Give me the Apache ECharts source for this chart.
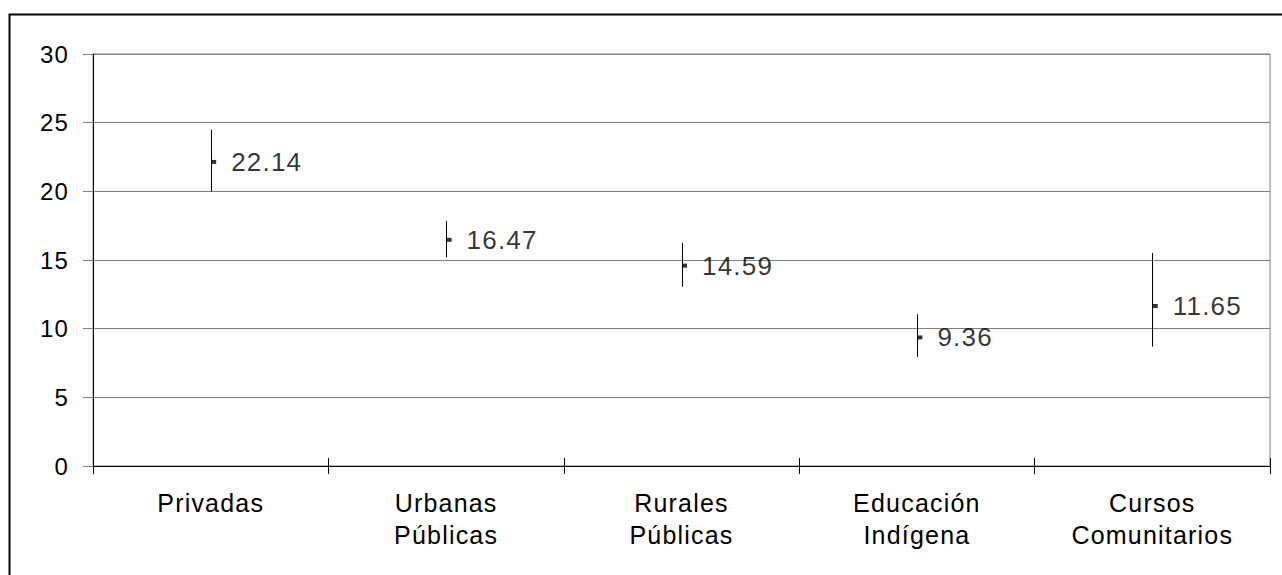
<!DOCTYPE html>
<html>
<head>
<meta charset="utf-8">
<script src="https://cdn.jsdelivr.net/npm/echarts@6/dist/echarts.min.js"></script>
<style>
  html, body { margin: 0; padding: 0; background: #fff; }
  #chart { width: 1282px; height: 575px; }
  /* slightly wider spacing for all chart text */
  #chart text { letter-spacing: 1.2px; }
</style>
</head>
<body>
<div id="chart"></div>
<script>
// Categories of school type
const categories = ['Privadas', 'Urbanas\nPúblicas', 'Rurales\nPúblicas', 'Educación\nIndígena', 'Cursos\nComunitarios'];
// Mean value per category
const means = [22.14, 16.47, 14.59, 9.36, 11.65];
// Interval limits per category
const upper = [24.5, 17.85, 16.25, 11.05, 15.5];
const lower = [20.0, 15.2, 13.05, 7.95, 8.7];
// Y-axis scale
const yMin = 0, yMax = 30, yStep = 5;

const FONT = "'Liberation Sans', Arial, sans-serif";
const chart = echarts.init(document.getElementById('chart'), null, { renderer: 'svg' });

const rangeData = categories.map((c, i) => [i, lower[i], upper[i]]);
const meanData = categories.map((c, i) => [i, means[i]]);

chart.setOption({
  animation: false,
  backgroundColor: '#fff',
  graphic: [{
    type: 'rect',
    left: 7, top: 12,
    shape: { width: 1320, height: 620 },
    style: { fill: 'none', stroke: '#000', lineWidth: 2 },
    z: 0, silent: true
  }],
  grid: {
    left: 93, right: 12, top: 54, bottom: 109,
    show: true, borderColor: '#808080', borderWidth: 1, backgroundColor: 'transparent'
  },
  xAxis: [{
    type: 'category',
    data: categories,
    boundaryGap: true,
    position: 'bottom',
    axisLine: { show: true, lineStyle: { color: '#000', width: 1 } },
    axisTick: { show: true, length: 8, inside: false, lineStyle: { color: '#000' } },
    axisLabel: {
      color: '#000', fontFamily: FONT, fontSize: 25, lineHeight: 32,
      margin: 21, interval: 0
    },
    splitLine: { show: false }
  }, {
    type: 'category',
    data: categories,
    boundaryGap: true,
    position: 'bottom',
    axisLine: { show: false },
    axisTick: { show: true, length: 8, inside: true, lineStyle: { color: '#000' } },
    axisLabel: { show: false },
    splitLine: { show: false }
  }],
  yAxis: {
    type: 'value',
    min: yMin, max: yMax, interval: yStep,
    axisLine: { show: true, lineStyle: { color: '#000', width: 1 } },
    axisTick: { show: true, length: 10, lineStyle: { color: '#808080' } },
    axisLabel: { color: '#000', fontFamily: FONT, fontSize: 24, margin: 24 },
    splitLine: { show: true, lineStyle: { color: '#808080', width: 1 } }
  },
  series: [{
    type: 'custom',
    xAxisIndex: 0,
    data: rangeData,
    renderItem: function (params, api) {
      const lo = api.coord([api.value(0), api.value(1)]);
      const hi = api.coord([api.value(0), api.value(2)]);
      return {
        type: 'line',
        shape: { x1: Math.round(lo[0]) + 0.5, y1: lo[1], x2: Math.round(hi[0]) + 0.5, y2: hi[1] },
        style: { stroke: '#000', lineWidth: 1 }
      };
    },
    z: 3
  }, {
    type: 'scatter',
    xAxisIndex: 0,
    data: meanData,
    symbol: 'rect',
    symbolSize: [5, 4],
    symbolOffset: [3, 0],
    itemStyle: { color: '#000' },
    label: {
      show: true,
      position: 'right',
      distance: 15,
      color: '#000',
      fontFamily: FONT,
      fontSize: 26,
      formatter: p => p.value[1].toFixed(2)
    },
    z: 4
  }]
});
</script>
</body>
</html>
